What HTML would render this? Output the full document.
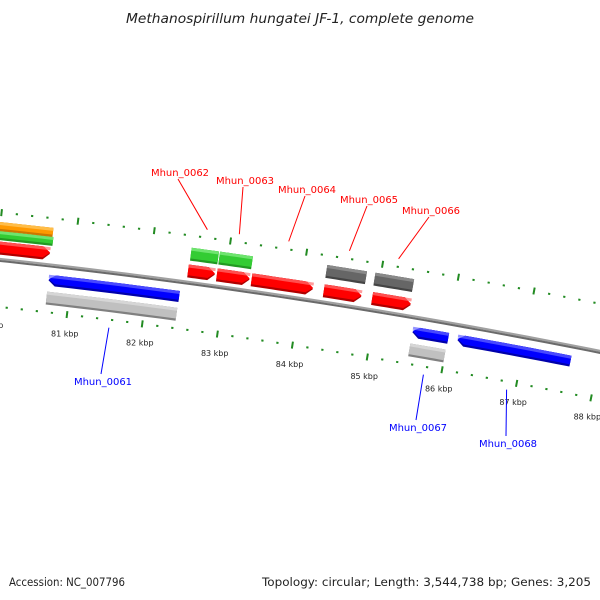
<!DOCTYPE html>
<html><head><meta charset="utf-8"><style>
html,body{margin:0;padding:0;background:#fff;}
svg{display:block;font-family:"DejaVu Sans","Liberation Sans",sans-serif;}
</style></head><body>
<svg id="map" width="600" height="600" viewBox="0 0 600 600" xmlns="http://www.w3.org/2000/svg">
<defs></defs>
<text x="300" y="23" text-anchor="middle" font-size="13" font-style="italic" fill="#222" textLength="348" lengthAdjust="spacingAndGlyphs">Methanospirillum hungatei JF-1, complete genome</text>
<g id="ticks"></g>
<g id="backbone"></g>
<g id="features"></g>
<g id="labels"></g>
<text x="9" y="586" font-size="11.5" fill="#222" textLength="116" lengthAdjust="spacingAndGlyphs">Accession: NC_007796</text>
<text x="591" y="586" text-anchor="end" font-size="11.5" fill="#222" textLength="329" lengthAdjust="spacingAndGlyphs">Topology: circular; Length: 3,544,738 bp; Genes: 3,205</text>
</svg>
<script>
// ---- data ----
var featStart  = [79500, 79500, 79500, 80706, 80706, 82512, 82505, 82885, 82885, 83343, 84292, 84298, 84927, 84938, 85530, 85530, 86130];
var featEnd    = [80687, 80706, 80693, 82434, 82430, 82871, 82859, 83317, 83317, 84155, 84815, 84796, 85437, 85450, 86008, 86000, 87640];
var featTrack  = ['fwdCds','fwdGreen','fwdOrange','revCds','revGrey','fwdGreenR','fwdCds','fwdGreenR','fwdCds','fwdCds','fwdGrey','fwdCds','fwdGrey','fwdCds','revCds','revGrey','revCds'];
var featStrand = [1,0,0,-1,0,0,1,0,1,1,0,1,0,1,-1,0,-1];
var labelNames = ['Mhun_0061','Mhun_0062','Mhun_0063','Mhun_0064','Mhun_0065','Mhun_0066','Mhun_0067','Mhun_0068'];
var labelStart = [80706, 82505, 82885, 83343, 84298, 84938, 85530, 86130];
var labelEnd   = [82434, 82859, 83317, 84155, 84796, 85450, 86008, 87640];
var labelSide  = [-1, 1, 1, 1, 1, 1, -1, -1];
var tickStartBp = 79000, tickEndBp = 89000, tickStep = 200, majorStep = 1000;

// ---- layout (not data) ----
var CX = -708, CY = 6882, R = 6660;
var A81 = -83.27, DEG_PER_KBP = 0.657;
var trackStyle = {
  fwdCds:   {c:6671.5, h:6.5, fill:'#ff0000', hi:'#ff7070', lo:'#b00000'},
  fwdGreen: {c:6684,   h:4.5, fill:'#33cc33', hi:'#88ee88', lo:'#229922'},
  fwdOrange:{c:6693,   h:4.5, fill:'#ff9900', hi:'#ffcc66', lo:'#cc7700'},
  fwdGreenR:{c:6688.5, h:6.5, fill:'#33cc33', hi:'#88ee88', lo:'#229922'},
  fwdGrey:  {c:6691,   h:6.5, fill:'#666666', hi:'#999999', lo:'#444444'},
  revCds:   {c:6645,   h:5.5, fill:'#0000ff', hi:'#6666ff', lo:'#0000aa'},
  revGrey:  {c:6627,   h:6.5, fill:'#c0c0c0', hi:'#e0e0e0', lo:'#808080'}
};
var labelPos = [[103,385],[180,176],[245,184],[307,193],[369,203],[431,214],[418,431],[508,447]];

var NS = 'http://www.w3.org/2000/svg';
function ang(bp){ return (A81 + (bp-81000)/1000*DEG_PER_KBP) * Math.PI/180; }
function P(bp, r){ var a = ang(bp); return [CX + r*Math.cos(a), CY + r*Math.sin(a)]; }
function mk(tag, attrs, parent){ var e = document.createElementNS(NS, tag); for (var k in attrs) e.setAttribute(k, attrs[k]); parent.appendChild(e); return e; }
function arcPts(s, e, r, n){ var pts=[]; for(var i=0;i<=n;i++){ pts.push(P(s+(e-s)*i/n, r)); } return pts; }
function ptsStr(p){ return p.map(function(q){return q[0].toFixed(2)+','+q[1].toFixed(2);}).join(' '); }

// ticks
var tg = document.getElementById('ticks');
for (var bp = tickStartBp; bp <= tickEndBp; bp += tickStep) {
  var major = (bp % majorStep === 0);
  [6707, 6613].forEach(function(rr){
    var a = major ? P(bp, rr-3.5) : P(bp, rr-1);
    var b = major ? P(bp, rr+3.5) : P(bp, rr+1);
    var t = mk('line', {x1:a[0], y1:a[1], x2:b[0], y2:b[1], stroke:'#228b22', 'stroke-width': major?2:2.2}, tg);
    
    
  });
  if (major) {
    var lp = P(bp, 6594);
    var tl = mk('text', {x:lp[0], y:lp[1]+3, 'text-anchor':'middle', 'font-size':'8', fill:'#222'}, tg);
    tl.textContent = (bp/1000) + ' kbp';
    
    
  }
}

// backbone
var bb = document.getElementById('backbone');
var b1 = mk('polyline', {points: ptsStr(arcPts(78500, 89500, R+0.8, 40)), fill:'none', stroke:'#a0a0a0', 'stroke-width':2.2}, bb);


var b2 = mk('polyline', {points: ptsStr(arcPts(78500, 89500, R-1.2, 40)), fill:'none', stroke:'#6a6a6a', 'stroke-width':2}, bb);



// features
var fg = document.getElementById('features');
function featurePoly(s, e, r0, r1, strand){
  var tipBp = 90;
  var rm = (r0+r1)/2, top, bot, pts;
  if (strand === 1) {
    var e2 = e - tipBp;
    top = arcPts(s, e2, r1, 8); bot = arcPts(s, e2, r0, 8).reverse();
    pts = top.concat([P(e, rm)]).concat(bot);
  } else if (strand === -1) {
    var s2 = s + tipBp;
    top = arcPts(s2, e, r1, 8); bot = arcPts(s2, e, r0, 8).reverse();
    pts = [P(s, rm)].concat(top).concat(bot);
  } else {
    top = arcPts(s, e, r1, 8); bot = arcPts(s, e, r0, 8).reverse();
    pts = top.concat(bot);
  }
  return ptsStr(pts);
}
for (var i = 0; i < featStart.length; i++) {
  var st = trackStyle[featTrack[i]];
  var r0 = st.c - st.h, r1 = st.c + st.h;
  var g = mk('g', {}, fg);
  
  
  var base = mk('polygon', {points: featurePoly(featStart[i], featEnd[i], r0, r1, featStrand[i]), fill: st.lo}, g);
  
  
  var main = mk('polygon', {points: featurePoly(featStart[i], featEnd[i], r0+2.2, r1, featStrand[i]), fill: st.fill}, g);
  
  
  var hi = mk('polygon', {points: featurePoly(featStart[i], featEnd[i], r1-3, r1, 0), fill: st.hi, opacity: 0.7}, g);
  
  
}

// labels
var lg = document.getElementById('labels');
for (var j = 0; j < labelNames.length; j++) {
  var mid = (labelStart[j] + labelEnd[j]) / 2;
  var col = labelSide[j] > 0 ? '#ff0000' : '#0000ff';
  var fp = P(mid, R + labelSide[j]*55);
  var lx = labelPos[j][0], ly = labelPos[j][1];
  var ey = labelSide[j] > 0 ? ly + 3 : ly - 11;
  var ln = mk('line', {x1: fp[0], y1: fp[1], x2: lx - 2, y2: ey, stroke: col, 'stroke-width': 1}, lg);
  
  
  var tx = mk('text', {x: lx, y: ly, 'text-anchor': 'middle', 'font-size': '10', fill: col}, lg);
  tx.textContent = labelNames[j];
  
  
}
</script>
</body></html>
